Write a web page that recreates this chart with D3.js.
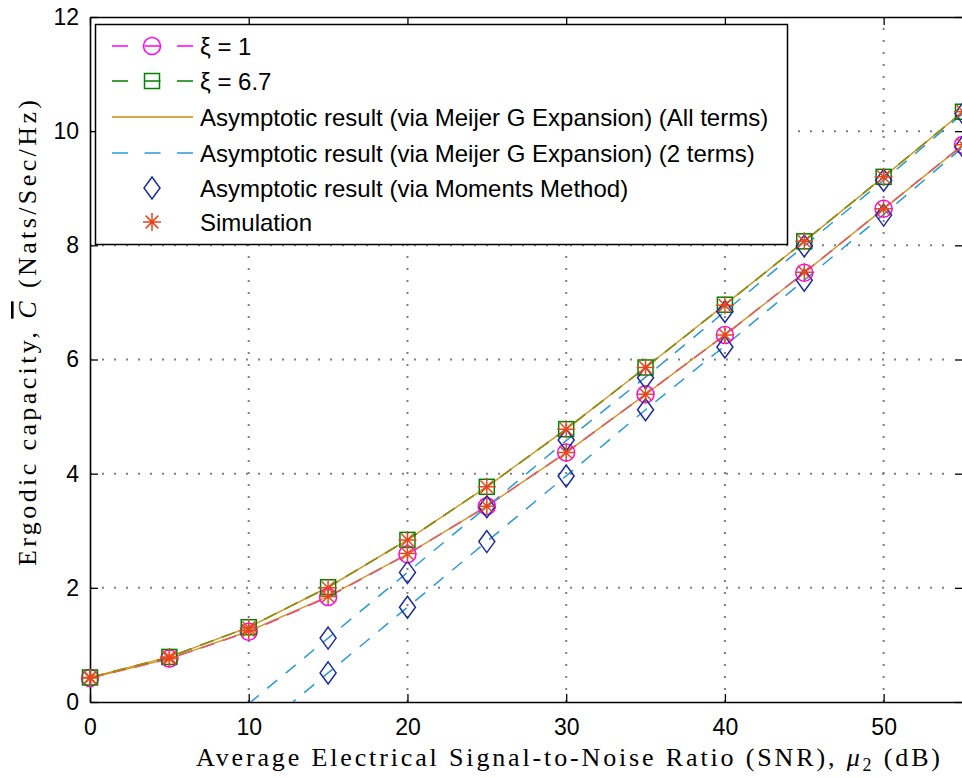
<!DOCTYPE html>
<html>
<head>
<meta charset="utf-8">
<script src="https://cdn.jsdelivr.net/npm/d3@7"></script>
<style>
  html, body { margin: 0; padding: 0; background: #fff; }
  svg { display: block; }
</style>
</head>
<body>
<svg id="chart" width="962" height="778"></svg>
<script>
// ---------------- data ----------------
const snr = [0, 5, 10, 15, 20, 25, 30, 35, 40, 45, 50, 55];
const xTicks = [0, 10, 20, 30, 40, 50];
const yTicks = [0, 2, 4, 6, 8, 10, 12];

// exact results (markers with dashed line)
const capXi1  = [0.42, 0.76, 1.23, 1.84, 2.59, 3.43, 4.37, 5.39, 6.43, 7.52, 8.64, 9.76];
const capXi67 = [0.43, 0.79, 1.31, 2.01, 2.84, 3.77, 4.78, 5.86, 6.96, 8.07, 9.20, 10.34];

// asymptotic (Meijer G, all terms)
const asymAllXi1  = [0.42, 0.76, 1.24, 1.85, 2.59, 3.43, 4.37, 5.39, 6.43, 7.52, 8.64, 9.76];
const asymAllXi67 = [0.43, 0.79, 1.31, 2.01, 2.84, 3.77, 4.78, 5.86, 6.96, 8.07, 9.20, 10.34];

// asymptotic (Meijer G, 2 terms)
const snr2 = [10, 15, 20, 25, 30, 35, 40, 45, 50, 55];
const asym2Xi1  = [-0.64, 0.51, 1.66, 2.81, 3.96, 5.12, 6.24, 7.39, 8.54, 9.72];
const asym2Xi67 = [-0.03, 1.12, 2.27, 3.42, 4.58, 5.69, 6.84, 7.99, 9.14, 10.31];

// asymptotic (moments method)
const snrM = [15, 20, 25, 30, 35, 40, 45, 50, 55];
const momXi1  = [0.51, 1.66, 2.81, 3.96, 5.12, 6.22, 7.39, 8.53, 9.73];
const momXi67 = [1.12, 2.27, 3.42, 4.59, 5.68, 6.84, 7.99, 9.14, 10.31];

// simulation
const simXi1  = [0.42, 0.76, 1.25, 1.85, 2.60, 3.43, 4.37, 5.39, 6.43, 7.53, 8.64, 9.76];
const simXi67 = [0.43, 0.79, 1.30, 2.00, 2.84, 3.77, 4.78, 5.86, 6.95, 8.07, 9.20, 10.34];

const legendLabels = [
  "\u03BE = 1",
  "\u03BE = 6.7",
  "Asymptotic result (via Meijer G Expansion) (All terms)",
  "Asymptotic result (via Meijer G Expansion) (2 terms)",
  "Asymptotic result (via Moments Method)",
  "Simulation"
];

// ---------------- styles ----------------
const C_MAG = "#ff00ff", C_GRN = "#008000", C_GOLD = "#c88a0c",
      C_BLUE = "#2a9ad6", C_NAVY = "#1c2c9c", C_RED = "#e8461c";

const svg = d3.select("#chart");
const L = 90, R = 963, T = 17, B = 702;
const x = d3.scaleLinear().domain([0, 55]).range([L, R]);
const y = d3.scaleLinear().domain([0, 12]).range([B, T]);

svg.append("defs").append("clipPath").attr("id", "clip")
  .append("rect").attr("x", L).attr("y", T).attr("width", R - L).attr("height", B - T);

// grid
const grid = svg.append("g").attr("stroke", "#808080").attr("stroke-width", 2)
  .attr("stroke-dasharray", "2,10");
xTicks.filter(d => d > 0).forEach(d => {
  grid.append("line").attr("x1", x(d)).attr("x2", x(d)).attr("y1", B).attr("y2", T);
});
yTicks.filter(d => d > 0 && d < 12).forEach(d => {
  grid.append("line").attr("x1", L).attr("x2", R - 10).attr("y1", y(d)).attr("y2", y(d));
});

// axes (bottom/left with inward ticks, plus top/right)
const fontTick = "Liberation Sans, Arial, sans-serif";
const axB = svg.append("g").attr("transform", `translate(0,${B})`)
  .call(d3.axisBottom(x).tickValues(xTicks).tickSize(-8).tickSizeOuter(0).tickPadding(14));
const axT = svg.append("g").attr("transform", `translate(0,${T})`)
  .call(d3.axisTop(x).tickValues(xTicks).tickSize(-8).tickSizeOuter(0).tickFormat(""));
const axL = svg.append("g").attr("transform", `translate(${L},0)`)
  .call(d3.axisLeft(y).tickValues(yTicks).tickSize(-8).tickSizeOuter(0).tickPadding(11));
const axR = svg.append("g").attr("transform", `translate(${R},0)`)
  .call(d3.axisRight(y).tickValues(yTicks).tickSize(-8).tickSizeOuter(0).tickFormat(""));
[axB, axT, axL, axR].forEach(a => {
  a.selectAll("path.domain").attr("stroke", "#000").attr("stroke-width", 1.6);
  a.selectAll(".tick line").attr("stroke", "#000").attr("stroke-width", 1.3);
  a.selectAll("text").attr("font-family", fontTick).attr("font-size", 23).attr("fill", "#000");
});
axB.selectAll("text").attr("dy", "0.72em").attr("y", 16);

// line generator
const lineGen = (xs) => d3.line().x((d, i) => x(xs[i])).y(d => y(d));
const plot = svg.append("g");

// ξ series dashed lines
[[capXi1, C_MAG], [capXi67, C_GRN]].forEach(([v, c]) => {
  plot.append("path").datum(v).attr("d", lineGen(snr)).attr("fill", "none")
    .attr("stroke", c).attr("stroke-width", 1.6).attr("stroke-dasharray", "14,9");
});
// all-terms asymptotic (solid gold)
[asymAllXi1, asymAllXi67].forEach(v => {
  plot.append("path").datum(v).attr("d", lineGen(snr)).attr("fill", "none")
    .attr("stroke", C_GOLD).attr("stroke-width", 1.5).attr("stroke-opacity", 0.85);
});
// 2 term asymptotic (dashed blue)
[asym2Xi1, asym2Xi67].forEach(v => {
  plot.append("path").datum(v).attr("d", lineGen(snr2)).attr("fill", "none")
    .attr("clip-path", "url(#clip)")
    .attr("stroke", C_BLUE).attr("stroke-width", 1.5).attr("stroke-dasharray", "13,11");
});

// marker drawing
function circleM(g, cx, cy) {
  g.append("circle").attr("cx", cx).attr("cy", cy).attr("r", 8.5)
    .attr("fill", "none").attr("stroke", C_MAG).attr("stroke-width", 1.5);
}
function squareM(g, cx, cy) {
  g.append("rect").attr("x", cx - 7.5).attr("y", cy - 7.5).attr("width", 15).attr("height", 15)
    .attr("fill", "none").attr("stroke", C_GRN).attr("stroke-width", 1.5);
}
function diamondM(g, cx, cy) {
  g.append("path").attr("d", `M${cx},${cy - 11}L${cx + 8},${cy}L${cx},${cy + 11}L${cx - 8},${cy}Z`)
    .attr("fill", "none").attr("stroke", C_NAVY).attr("stroke-width", 1.5);
}
function starM(g, cx, cy) {
  const r = 9, d = r * 0.7071;
  g.append("path").attr("d",
    `M${cx - r},${cy}L${cx + r},${cy}M${cx},${cy - r}L${cx},${cy + r}` +
    `M${cx - d},${cy - d}L${cx + d},${cy + d}M${cx - d},${cy + d}L${cx + d},${cy - d}`)
    .attr("fill", "none").attr("stroke", C_RED).attr("stroke-width", 1.5);
}

const mk = svg.append("g");
capXi1.forEach((v, i) => circleM(mk, x(snr[i]), y(v)));
capXi67.forEach((v, i) => squareM(mk, x(snr[i]), y(v)));
momXi1.forEach((v, i) => diamondM(mk, x(snrM[i]), y(v)));
momXi67.forEach((v, i) => diamondM(mk, x(snrM[i]), y(v)));
simXi1.forEach((v, i) => starM(mk, x(snr[i]), y(v)));
simXi67.forEach((v, i) => starM(mk, x(snr[i]), y(v)));

// ---------------- legend ----------------
const lg = svg.append("g");
lg.append("rect").attr("x", 95.5).attr("y", 24.5).attr("width", 692).attr("height", 220)
  .attr("fill", "#fff").attr("stroke", "#000").attr("stroke-width", 1.5);
const rowY = [46, 81, 117, 153, 188, 222];
const lx1 = 112, lx2 = 193, lmx = 152;
// rows
lg.append("line").attr("x1", lx1).attr("x2", lx2).attr("y1", rowY[0]).attr("y2", rowY[0])
  .attr("stroke", C_MAG).attr("stroke-width", 1.5).attr("stroke-dasharray", "16,16.5");
circleM(lg, lmx, rowY[0]);
lg.append("line").attr("x1", lx1).attr("x2", lx2).attr("y1", rowY[1]).attr("y2", rowY[1])
  .attr("stroke", C_GRN).attr("stroke-width", 1.5).attr("stroke-dasharray", "16,16.5");
squareM(lg, lmx, rowY[1]);
lg.append("line").attr("x1", lx1).attr("x2", lx2).attr("y1", rowY[2]).attr("y2", rowY[2])
  .attr("stroke", C_GOLD).attr("stroke-width", 1.5);
lg.append("line").attr("x1", lx1).attr("x2", lx2).attr("y1", rowY[3]).attr("y2", rowY[3])
  .attr("stroke", C_BLUE).attr("stroke-width", 1.5).attr("stroke-dasharray", "16,16.5");
diamondM(lg, lmx, rowY[4]);
starM(lg, lmx, rowY[5]);
legendLabels.forEach((t, i) => {
  lg.append("text").attr("x", 200).attr("y", rowY[i]).attr("dy", "0.36em")
    .attr("font-family", fontTick).attr("font-size", 24).attr("fill", "#000").text(t);
});

// ---------------- axis titles ----------------
const serif = "Liberation Serif, Times New Roman, serif";
const xt = svg.append("text").attr("x", 196).attr("y", 766)
  .attr("font-family", serif).attr("font-size", 26).attr("fill", "#000")
  .attr("textLength", 744).attr("lengthAdjust", "spacing");
xt.append("tspan").text("Average Electrical Signal-to-Noise Ratio (SNR), ");
xt.append("tspan").attr("font-style", "italic").text("\u03BC");
xt.append("tspan").attr("font-size", 18).attr("dy", 5).text("2");
xt.append("tspan").attr("dy", -5).text(" (dB)");

const yt = svg.append("text").attr("transform", "translate(36,566) rotate(-90)")
  .attr("x", 0).attr("y", 0)
  .attr("font-family", serif).attr("font-size", 26).attr("fill", "#000")
  .attr("textLength", 466).attr("lengthAdjust", "spacing");
yt.append("tspan").text("Ergodic capacity, ");
yt.append("tspan").attr("font-style", "italic").attr("text-decoration", "overline").text("C");
yt.append("tspan").text(" (Nats/Sec/Hz)");
</script>
</body>
</html>
